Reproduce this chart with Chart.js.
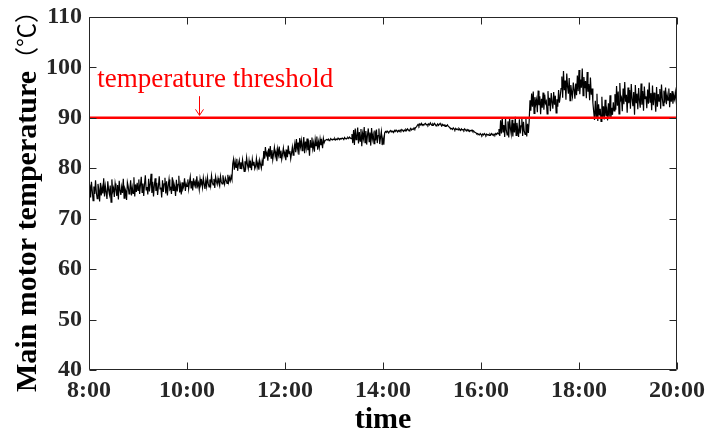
<!DOCTYPE html>
<html><head><meta charset="utf-8">
<script src="https://cdn.jsdelivr.net/npm/chart.js@4.4.1/dist/chart.umd.min.js"></script>
<style>html,body{margin:0;padding:0;background:#fff}canvas{display:block}</style>
</head><body>
<canvas id="c" width="706" height="436"></canvas>
<script>
// ---- data: 1-minute samples from 8:00 to 20:00 ----
const seg0800 = [75.1,76.8,74.2,77.3,75.5,73.6,76.4,74.9,77.6,75.2,
74.0,76.9,75.8,73.4,77.1,74.6,76.2,75.0,78.0,74.4,
76.5,75.3,73.9,77.4,75.7,74.8,76.6,73.3,77.8,75.4,
76.1,74.3,77.0,75.9,74.5,76.7,73.8,77.5,75.6,74.7,
76.3,75.1,77.9,74.1,76.0,75.5,73.7,77.2,76.4,74.9,
75.8,77.6,74.6,76.2,75.0,78.2,74.4,76.8,75.3,77.1];
const seg0900 = [75.6,77.8,74.9,76.7,78.3,75.2,77.0,74.5,76.9,78.6,
75.7,76.3,74.8,77.9,75.4,76.8,78.9,75.1,77.3,74.4,
76.6,78.0,75.5,77.1,74.7,76.4,78.4,75.9,76.2,74.2,
77.6,75.3,76.9,78.1,75.0,77.4,74.6,76.5,77.8,75.8,
76.1,74.9,78.2,75.6,77.0,76.3,74.5,77.7,75.4,76.8,
78.5,75.2,76.6,74.8,77.2,75.9,76.4,78.0,75.5,76.9];
const seg1000 = [76.4,77.8,75.9,77.2,78.3,76.1,77.5,75.6,78.0,76.7,
77.3,76.0,78.4,76.5,77.1,75.8,77.9,76.8,77.4,76.2,
78.1,76.9,75.9,77.6,76.4,78.2,77.0,76.3,77.8,76.6,
78.5,77.2,76.7,77.9,76.1,78.3,77.4,76.8,78.0,77.1,
76.5,78.4,77.3,76.9,78.6,77.5,76.8,78.1,77.6,77.0,
78.7,77.3,78.2,77.5,78.4,77.8];
const seg1056 = [80.9,81.8,79.7,81.3,80.2,81.9,79.5,80.8,81.6,80.0,
81.2,79.8,81.7,80.5,79.4,81.4,80.3,82.1,80.7,79.9,
81.5,80.1,81.0,79.6,81.8,80.6,81.3,79.9,80.4,81.9,
80.2,81.1,79.7,81.6,80.8,80.0,81.4,80.5];
const seg1134 = [83.4,81.9,84.2,82.6,83.1,81.5,83.9,82.3,84.4,82.0,
83.6,81.7,82.9,84.1,82.4,83.3,81.4,83.8,82.7,84.3,
82.1,83.5,81.8,82.8,84.0,82.5,83.2,81.6,83.7,82.2,
84.5,82.9,83.4,81.9,83.0,84.2,82.6,83.8];
const seg1212 = [84.9,83.2,85.8,83.8,85.1,82.7,86.0,84.3,85.5,83.5,
84.7,86.2,83.0,85.3,84.0,85.9,83.6,84.8,82.5,85.6,
84.2,86.1,83.9,85.0,83.3,85.7,84.5,86.3,83.7,85.2,
84.1,85.8,84.6,85.4,84.0,85.9,85.1,85.5];
const seg1250 = [85.5,85.7,85.6,85.8,85.5,85.6,85.9,85.7,85.6,85.8,
85.7,85.9,85.6,85.8,85.7,86.0,85.8,85.7,85.9,85.8,
86.0,85.9,85.7,86.1,85.9,85.8,86.0,86.1,85.9,86.2,
86.0,85.9];
const seg1322 = [86.8,85.0,87.6,84.6,87.9,85.7,86.4,88.1,84.9,87.2,
85.4,87.8,84.4,86.9,85.9,88.2,85.1,87.4,84.7,86.6,
87.9,85.3,87.1,84.5,88.0,85.8,86.7,84.9,87.5,85.5,
87.7,85.0,86.5,87.9,84.8,86.2,87.3,84.6,85.9,84.7];
const seg1402 = [87.0,87.3,87.1,87.4,87.2,87.0,87.3,87.5,87.2,87.4,
87.3,87.1,87.5,87.3,87.6,87.4,87.2,87.5,87.3,87.6,
87.4,87.7,87.5,87.3,87.6,87.4,87.7,87.5,87.8,87.6,
87.4,87.7,87.9,87.6,87.8,87.7,88.0,87.8,88.1,88.2];
const seg1442 = [88.5,88.7,88.4,88.8,88.6,88.9,88.5,88.7,88.6,88.8,
88.9,88.6,88.7,88.5,88.8,88.6,89.0,88.7,88.5,88.8,
88.6,88.9,88.7,88.4,88.6,88.8,88.5,88.7,88.9,88.6,
88.4,88.7,88.5,88.6,88.3,88.5,88.4,88.6,88.3,88.2];
const seg1522 = [88.0,87.8,87.9,87.7,88.0,87.8,87.6,87.9,87.7,87.8,
87.6,87.9,87.7,87.5,87.8,87.6,87.7,87.5,87.8,87.6,
87.4,87.7,87.5,87.6,87.3,87.5,87.4,87.6,87.3,87.4,
87.2,87.1];
const seg1554 = [87.0,86.8,86.9,86.7,86.6,86.9,86.7,86.5,86.8,86.6,
86.9,86.7,86.5,86.8,86.6,86.7,86.5,86.8,86.6,86.9,
86.7,86.5,86.8,86.6,86.9,86.7,87.0,86.8];
const seg1622 = [87.8,86.4,89.5,86.9,90.0,87.2,88.6,86.2,89.8,87.5,
86.6,89.3,86.1,90.1,87.9,86.8,89.6,86.3,88.9,87.1,
90.2,86.5,89.0,87.6,86.2,89.7,86.9,88.4,90.0,86.4,
89.2,87.3,86.7,89.9,86.3,88.8,87.0,89.4];
const seg1700 = [93.5,91.4,94.8,92.2,95.2,90.9,94.1,92.7,93.6,91.1,
95.4,92.5,94.3,90.7,93.8,92.0,95.0,91.6,94.6,92.9,
93.3,90.8,95.3,92.4,94.0,91.3,94.9,93.1,91.8,95.1,
92.6,94.4,91.0,93.7,92.2,95.5,93.0,94.2];
const seg1738 = [95.8,98.2,94.0,99.3,95.5,97.4,93.6,98.8,96.2,94.8,
97.9,93.4,96.5,95.1,94.2,97.0,95.6,93.8,96.8,94.5,
98.4,95.3,99.5,94.7,97.6,96.0,99.8,94.4,98.1,95.9,
97.3,93.9,99.1,95.2,96.7,93.5,98.0,94.6,95.8,93.0];
const seg1818 = [91.2,89.6,93.4,90.1,94.8,89.4,92.7,90.5,91.8,89.3,
94.2,90.0,92.3,89.7,93.6,90.4,91.5,89.5,92.9,90.2,
94.5,89.8,92.0,90.6,93.1,91.4];
const seg1844 = [94.7,91.6,96.3,92.4,95.2,90.8,96.9,93.5,94.0,91.3,
95.8,92.7,97.1,93.2,94.6,91.0,96.0,92.9,95.5,91.8,
96.7,93.7,92.3,95.1,90.6,96.5,93.0,94.8,91.7,95.9,
93.4,92.0,96.8,92.6,95.3,91.4,96.2,93.8,94.3,91.9,
95.6,92.8,97.0,93.1,94.9,91.5,96.4,92.5,95.0,93.6,
91.2,96.1,92.2,94.7,93.3,95.7,91.8,96.6,93.9,92.4,
95.4,93.0,96.0,92.7,94.5,93.5,95.8,92.1,94.9,93.2,
95.3,92.8,94.4,93.7,95.1,93.4,94.2];

const xTickLabels = ['8:00','10:00','12:00','14:00','16:00','18:00','20:00'];
const yTickValues = [40,50,60,70,80,90,100,110];
const thresholdValue = 90;
const thresholdLabel = 'temperature threshold';
const xTitle = 'time';
const yTitleMain = 'Main motor temperature';
const yTitleUnit = '（℃）';

const values = [].concat(seg0800,seg0900,seg1000,seg1056,seg1134,seg1212,seg1250,seg1322,
  seg1402,seg1442,seg1522,seg1554,seg1622,seg1700,seg1738,seg1818,seg1844);
const spanMin = 720;
const step = spanMin / (values.length - 1);
const series = values.map((v, i) => ({x: i * step, y: v}));
const thresholdSeries = [{x: 0, y: thresholdValue}, {x: spanMin, y: thresholdValue}];

const AX = '#262626';

const framePlugin = {
  id: 'frame',
  afterDatasetsDraw(chart) {
    const {ctx, chartArea: a, scales: {x, y}} = chart;
    ctx.save();
    ctx.strokeStyle = AX;
    ctx.lineWidth = 1;
    const L = a.left + 0.5, R = a.right - 0.5, T = a.top + 0.5, B = a.bottom - 0.5;
    ctx.beginPath();
    ctx.rect(L, T, R - L, B - T);
    const tl = 7;
    yTickValues.forEach(v => {
      const py = Math.round(y.getPixelForValue(v)) + 0.5;
      ctx.moveTo(L, py); ctx.lineTo(L + tl, py);
      ctx.moveTo(R, py); ctx.lineTo(R - tl, py);
    });
    x.ticks.forEach(t => {
      const px = Math.round(x.getPixelForValue(t.value)) + 0.5;
      ctx.moveTo(px, B); ctx.lineTo(px, B - tl);
      ctx.moveTo(px, T); ctx.lineTo(px, T + tl);
    });
    ctx.stroke();

    // threshold annotation
    ctx.fillStyle = '#ff0000';
    ctx.strokeStyle = '#ff0000';
    ctx.font = '27px "Liberation Serif"';
    ctx.textBaseline = 'alphabetic';
    ctx.textAlign = 'left';
    ctx.fillText(thresholdLabel, x.getPixelForValue(10), y.getPixelForValue(96.1));
    const ax = Math.round(x.getPixelForValue(135)) + 0.5;
    const y0 = y.getPixelForValue(94.3), y1 = y.getPixelForValue(90.5);
    ctx.lineWidth = 1;
    ctx.beginPath();
    ctx.moveTo(ax, y0); ctx.lineTo(ax, y1);
    ctx.moveTo(ax - 4, y1 - 6); ctx.lineTo(ax, y1); ctx.lineTo(ax + 4, y1 - 6);
    ctx.stroke();

    // y axis title (bold serif words + CJK unit)
    ctx.fillStyle = '#000';
    ctx.translate(36, 392);
    ctx.rotate(-Math.PI / 2);
    ctx.textAlign = 'left';
    ctx.textBaseline = 'alphabetic';
    ctx.font = 'bold 30px "Liberation Serif"';
    ctx.fillText(yTitleMain, 0, 0);
    const w = ctx.measureText(yTitleMain).width;
    ctx.font = '24px "Noto Sans CJK SC"';
    ctx.fillText(yTitleUnit, w, -1);
    ctx.restore();
  }
};

new Chart(document.getElementById('c'), {
  type: 'line',
  data: {
    datasets: [
      {data: thresholdSeries, borderColor: '#ff0000', borderWidth: 2.5, pointRadius: 0, tension: 0},
      {data: series, borderColor: '#000000', borderWidth: 1.2, pointRadius: 0, tension: 0}
    ]
  },
  options: {
    responsive: false,
    animation: false,
    devicePixelRatio: 1,
    layout: {padding: {top: 17, right: 29, left: 0, bottom: 0}},
    plugins: {legend: {display: false}, tooltip: {enabled: false}},
    scales: {
      x: {
        type: 'linear', min: 0, max: spanMin,
        grid: {display: false, drawTicks: false},
        border: {display: false},
        ticks: {
          stepSize: 120, autoSkip: false, maxRotation: 0, padding: 6,
          color: AX, font: {family: '"Liberation Serif"', size: 24, weight: 'bold'},
          callback: (v, i) => xTickLabels[i]
        },
        title: {display: true, text: xTitle, color: '#000', padding: {top: 0, bottom: 1},
          font: {family: '"Liberation Serif"', size: 30, weight: 'bold', lineHeight: 1}},
        afterFit: s => { s.height = 66; s.paddingLeft = 0; s.paddingRight = 0; }
      },
      y: {
        min: 40, max: 110,
        grid: {display: false, drawTicks: false},
        border: {display: false},
        ticks: {
          stepSize: 10, padding: 7,
          color: AX, font: {family: '"Liberation Serif"', size: 24, weight: 'bold'}
        },
        title: {display: false},
        afterFit: s => { s.width = 89; s.paddingTop = 0; s.paddingBottom = 0; }
      }
    }
  },
  plugins: [framePlugin]
});
</script>
</body></html>
